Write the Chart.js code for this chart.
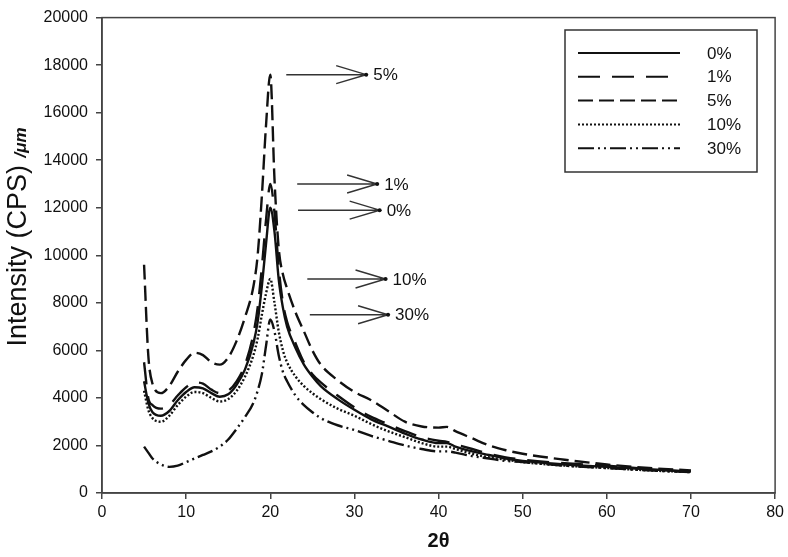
<!DOCTYPE html>
<html>
<head>
<meta charset="utf-8">
<script src="https://cdn.jsdelivr.net/npm/chart.js@4.4.1/dist/chart.umd.min.js"></script>
<style>
  body { margin: 0; background: #fff; }
  #wrap { width: 788px; height: 557px; }
</style>
</head>
<body>
<div id="wrap"><canvas id="myChart" width="788" height="557"></canvas></div>
<script>
'use strict';

// data (2 theta vs intensity)
const twoTheta = [5, 5.5, 6, 7, 8, 9, 10, 11, 12, 13, 14, 15, 16, 17, 18, 18.5, 19, 19.5, 20, 20.5, 21, 21.5, 22, 23, 24, 25, 26, 28, 30, 32, 34, 36, 38, 40, 41, 42, 44, 46, 48, 50, 55, 60, 65, 70];

const pct0 = [4700, 3800, 3400, 3250, 3450, 3900, 4250, 4450, 4400, 4200, 4050, 4150, 4550, 5200, 6300, 7200, 8700, 10500, 12000, 11000, 9000, 7800, 7000, 6100, 5400, 4900, 4500, 3950, 3500, 3100, 2800, 2500, 2250, 2100, 2100, 1950, 1750, 1600, 1450, 1350, 1200, 1100, 1000, 900];
const pct1 = [5500, 4000, 3700, 3550, 3700, 4100, 4450, 4650, 4600, 4350, 4200, 4300, 4700, 5400, 6700, 7800, 9500, 11500, 13000, 11800, 9500, 8000, 7200, 6300, 5500, 5000, 4650, 4100, 3600, 3200, 2900, 2600, 2350, 2200, 2150, 2050, 1850, 1650, 1500, 1400, 1250, 1150, 1000, 900];
const pct5 = [9600, 5800, 4600, 4200, 4500, 5100, 5600, 5900, 5800, 5500, 5400, 5700, 6400, 7400, 8700, 10000, 12500, 15500, 17600, 13200, 10300, 9200, 8600, 7600, 6800, 6000, 5400, 4750, 4250, 3900, 3450, 3000, 2800, 2750, 2780, 2600, 2300, 2000, 1800, 1650, 1400, 1200, 1050, 950];
const pct10 = [4300, 3500, 3150, 3000, 3250, 3700, 4050, 4250, 4200, 4000, 3850, 3950, 4300, 4900, 5800, 6500, 7500, 8400, 9000, 8000, 6800, 6000, 5500, 4900, 4500, 4200, 3950, 3550, 3250, 2900, 2600, 2350, 2100, 1950, 1950, 1850, 1650, 1500, 1400, 1300, 1150, 1050, 950, 880];
const pct30 = [1950, 1700, 1450, 1200, 1100, 1150, 1300, 1450, 1600, 1750, 1950, 2250, 2700, 3200, 3800, 4300, 5000, 6200, 7300, 6800, 5800, 5100, 4700, 4100, 3700, 3400, 3150, 2850, 2650, 2400, 2200, 2000, 1850, 1750, 1750, 1700, 1550, 1450, 1350, 1300, 1150, 1050, 950, 880];

const seriesLabels = ['0%', '1%', '5%', '10%', '30%'];
const seriesValues = [pct0, pct1, pct5, pct10, pct30];
const dashes = [[], [22, 12], [15, 6], [2, 2], [16, 4, 2, 4, 2, 4]];

// arrow call-outs next to the peaks: label, intensity, start and end of the arrow in 2 theta
const calloutLabels = ['5%', '1%', '0%', '10%', '30%'];
const calloutY = [17600, 13000, 11900, 9000, 7500];
const calloutFrom = [21.9, 23.2, 23.3, 24.4, 24.7];
const calloutTo = [31.4, 32.7, 33.0, 33.7, 34.0];

const ink = '#111';
const font = '"Liberation Sans", Arial, sans-serif';

const datasets = seriesLabels.map((label, i) => ({
    label: label,
    data: twoTheta.map((x, j) => ({ x: x, y: seriesValues[i][j] })),
    borderColor: ink,
    borderWidth: 2.4,
    borderDash: dashes[i],
    pointRadius: 0,
    fill: false,
    cubicInterpolationMode: 'monotone'
}));

// frame, y title, call-outs and legend box
const extras = {
    id: 'extras',
    afterDraw(chart) {
        const c = chart.ctx;
        const a = chart.chartArea;
        const xs = chart.scales.x;
        const ys = chart.scales.y;

        c.save();
        c.strokeStyle = '#444';
        c.lineWidth = 1.5;
        c.strokeRect(a.left, a.top, a.right - a.left, a.bottom - a.top);

        // y axis title, the unit is set smaller and italic
        c.translate(19, 237);
        c.rotate(-Math.PI / 2);
        c.fillStyle = ink;
        c.textBaseline = 'middle';
        c.textAlign = 'left';
        const main = 'Intensity (CPS) ';
        const unit = '/\u03bcm';
        c.font = '27px ' + font;
        const w1 = c.measureText(main).width;
        c.font = 'italic bold 17px ' + font;
        const w2 = c.measureText(unit).width;
        const start = -(w1 + w2) / 2;
        c.font = '27px ' + font;
        c.fillText(main, start, 0);
        c.font = 'italic bold 17px ' + font;
        c.fillText(unit, start + w1, 2);
        c.restore();

        // arrows
        c.save();
        c.strokeStyle = '#333';
        c.fillStyle = ink;
        c.lineWidth = 1.5;
        c.font = '17px ' + font;
        c.textBaseline = 'middle';
        calloutLabels.forEach((t, i) => {
            const y = ys.getPixelForValue(calloutY[i]);
            const x1 = xs.getPixelForValue(calloutFrom[i]);
            const x2 = xs.getPixelForValue(calloutTo[i]);
            c.beginPath();
            c.moveTo(x1, y);
            c.lineTo(x2, y);
            c.moveTo(x2 - 30, y - 9);
            c.lineTo(x2, y);
            c.lineTo(x2 - 30, y + 9);
            c.stroke();
            c.beginPath();
            c.arc(x2, y, 2, 0, Math.PI * 2);
            c.fill();
            c.fillText(t, x2 + 7, y + 1);
        });
        c.restore();

        // legend box
        const bx = 565, by = 30, bw = 192, bh = 142;
        c.save();
        c.fillStyle = '#fff';
        c.fillRect(bx, by, bw, bh);
        c.strokeStyle = '#333';
        c.lineWidth = 1.5;
        c.strokeRect(bx, by, bw, bh);
        c.font = '17px ' + font;
        c.textBaseline = 'middle';
        c.fillStyle = ink;
        seriesLabels.forEach((t, i) => {
            const y = by + 23 + i * 23.8;
            c.strokeStyle = ink;
            c.lineWidth = 2;
            c.setLineDash(dashes[i]);
            c.beginPath();
            c.moveTo(bx + 13, y);
            c.lineTo(bx + 115, y);
            c.stroke();
            c.setLineDash([]);
            c.fillText(t, bx + 142, y + 1);
        });
        c.restore();
    }
};

const ctx = document.getElementById('myChart').getContext('2d');

const myChart = new Chart(ctx, {
    type: 'line',
    data: { datasets: datasets },
    options: {
        responsive: false,
        animation: false,
        devicePixelRatio: 1,
        layout: { padding: { top: 10, right: 10, left: 0, bottom: 0 } },
        plugins: {
            legend: { display: false },
            tooltip: { enabled: false }
        },
        scales: {
            x: {
                type: 'linear',
                min: 0,
                max: 80,
                ticks: { stepSize: 10, color: ink, padding: 4, font: { family: font, size: 16 }, callback: (v) => String(v) },
                grid: { drawOnChartArea: false, tickLength: 6, color: '#444', lineWidth: 1.5 },
                border: { color: '#444', width: 1.5 },
                title: { display: true, text: '2\u03b8', color: ink, padding: { top: 9 }, font: { family: font, size: 20, weight: 'bold' } },
                afterFit: (s) => { s.height = 64; }
            },
            y: {
                min: 0,
                max: 20000,
                ticks: { stepSize: 2000, color: ink, padding: 8, font: { family: font, size: 16 }, callback: (v) => String(v) },
                grid: { drawOnChartArea: false, tickLength: 6, color: '#444', lineWidth: 1.5 },
                border: { color: '#444', width: 1.5 },
                afterFit: (s) => { s.width = 102; }
            }
        }
    },
    plugins: [extras]
});
</script>
</body>
</html>
